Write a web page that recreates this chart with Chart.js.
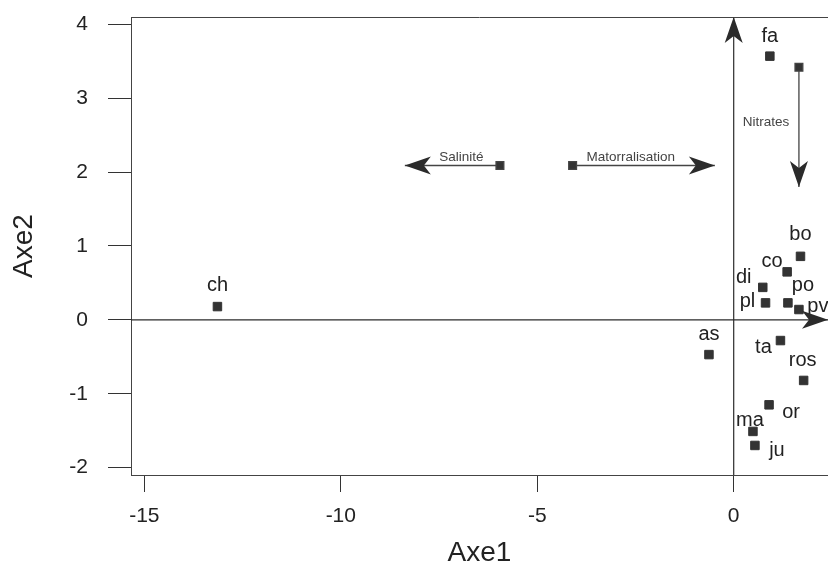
<!DOCTYPE html>
<html>
<head>
<meta charset="utf-8">
<script src="https://cdn.jsdelivr.net/npm/chart.js@4/dist/chart.umd.min.js"></script>
<style>
  html, body { margin: 0; padding: 0; background: #fff; }
  canvas { display: block; }
</style>
</head>
<body>
<canvas id="graficaACP" width="828" height="572"></canvas>
<script>
// Sites (coordonnées sur Axe1 / Axe2)
const sites = ['fa', 'bo', 'co', 'di', 'pl', 'po', 'pv', 'as', 'ta', 'ros', 'or', 'ma', 'ju', 'ch'];
const axe1 = [0.92, 1.70, 1.36, 0.74, 0.81, 1.38, 1.66, -0.63, 1.19, 1.78, 0.90, 0.49, 0.54, -13.14];
const axe2 = [3.57, 0.86, 0.65, 0.44, 0.23, 0.23, 0.14, -0.47, -0.28, -0.82, -1.15, -1.51, -1.70, 0.18];

// Variables (flèches)
const variables = ['Salinité', 'Matorralisation', 'Nitrates'];
const varStartX = [-5.95, -4.10, 1.66];
const varStartY = [2.09, 2.09, 3.42];
const varEndX = [-8.37, -0.48, 1.66];
const varEndY = [2.09, 2.09, 1.80];

// Axes
const xTicks = [-15, -10, -5, 0];
const yTicks = [-2, -1, 0, 1, 2, 3, 4];
const xMin = -15.34, xMax = 2.4;
const yMin = -2.1, yMax = 4.1;

// position des étiquettes (px, relatif au point)
const siteLabelOffset = {
    fa: [0, -20], bo: [0, -22], co: [-15, -10], di: [-19, -10], pl: [-18, -1],
    po: [15, -17], pv: [19, -3], as: [0, -20], ta: [-17, 7], ros: [-1, -20],
    or: [22, 8], ma: [-3, -11], ju: [22, 5], ch: [0, -21]
};
const varLabelOffset = [[9, -8], [-13, -8], [-33, -5]];

const ink = '#2b2b2b';
const fontFamily = '"Liberation Sans", Arial, sans-serif';

const datasets = [{
    label: 'sites',
    data: sites.map((s, i) => ({ x: axe1[i], y: axe2[i] })),
    pointStyle: 'rect',
    pointRadius: 6,
    backgroundColor: '#333',
    borderColor: '#333',
    borderWidth: 1,
    showLine: false,
    siteLabels: true
}];

variables.forEach((v, i) => {
    datasets.push({
        label: v,
        data: [{ x: varStartX[i], y: varStartY[i] }, { x: varEndX[i], y: varEndY[i] }],
        showLine: true,
        borderColor: '#444',
        borderWidth: 1.3,
        pointStyle: 'rect',
        pointRadius: [5.5, 0],
        backgroundColor: '#333',
        arrow: true,
        varIndex: i
    });
});

// axes factoriels avec flèches
datasets.push({
    label: 'axe1',
    data: [{ x: xMin, y: 0 }, { x: xMax, y: 0 }],
    showLine: true, borderColor: ink, borderWidth: 1.2, pointRadius: 0, arrow: true
});
datasets.push({
    label: 'axe2',
    data: [{ x: 0, y: yMin }, { x: 0, y: yMax }],
    showLine: true, borderColor: ink, borderWidth: 1.2, pointRadius: 0, arrow: true
});

const annotations = {
    id: 'annotations',
    afterDatasetsDraw(chart) {
        const ctx = chart.ctx;
        const area = chart.chartArea;
        ctx.save();
        // cadre du haut
        ctx.strokeStyle = '#444';
        ctx.lineWidth = 1;
        ctx.beginPath();
        ctx.moveTo(area.left, area.top + 0.5);
        ctx.lineTo(area.right, area.top + 0.5);
        ctx.stroke();

        chart.data.datasets.forEach((ds, di) => {
            const meta = chart.getDatasetMeta(di);
            if (ds.arrow) {
                const p0 = meta.data[0], p1 = meta.data[1];
                const a = Math.atan2(p1.y - p0.y, p1.x - p0.x);
                const L = 26, W = 9, N = 7;
                ctx.save();
                ctx.translate(p1.x, p1.y);
                ctx.rotate(a);
                ctx.fillStyle = ink;
                ctx.beginPath();
                ctx.moveTo(0, 0);
                ctx.lineTo(-L, -W);
                ctx.lineTo(-L + N, 0);
                ctx.lineTo(-L, W);
                ctx.closePath();
                ctx.fill();
                ctx.restore();
                if (ds.varIndex !== undefined) {
                    const off = varLabelOffset[ds.varIndex];
                    const mx = (p0.x + p1.x) / 2, my = (p0.y + p1.y) / 2;
                    ctx.fillStyle = '#444';
                    ctx.font = '13.5px ' + fontFamily;
                    ctx.textAlign = 'center';
                    ctx.textBaseline = 'middle';
                    ctx.fillText(ds.label, mx + off[0], my + off[1]);
                }
            }
            if (ds.siteLabels) {
                ctx.fillStyle = '#222';
                ctx.font = '20px ' + fontFamily;
                ctx.textAlign = 'center';
                ctx.textBaseline = 'middle';
                meta.data.forEach((pt, i) => {
                    const off = siteLabelOffset[sites[i]];
                    ctx.fillText(sites[i], pt.x + off[0], pt.y + off[1]);
                });
            }
        });
        ctx.restore();
    }
};

const ctxACP = document.getElementById('graficaACP').getContext('2d');
const graficaACP = new Chart(ctxACP, {
    type: 'scatter',
    data: { datasets: datasets },
    options: {
        responsive: false,
        animation: false,
        layout: { autoPadding: false, padding: { top: 17, right: 0, left: 0, bottom: 0 } },
        plugins: {
            legend: { display: false },
            tooltip: { enabled: false }
        },
        scales: {
            x: {
                type: 'linear',
                min: xMin, max: xMax,
                afterBuildTicks: (scale) => { scale.ticks = xTicks.map(v => ({ value: v })); },
                afterFit: (scale) => { scale.height = 97; scale.paddingLeft = 0; scale.paddingRight = 0; },
                grid: { drawOnChartArea: false, tickLength: 17, color: '#333', lineWidth: 1 },
                border: { display: true, color: '#444', width: 1 },
                ticks: { color: '#222', padding: 12, font: { size: 21, family: fontFamily } },
                title: { display: true, text: 'Axe1', color: '#222', font: { size: 28, family: fontFamily }, padding: { top: 0, bottom: 2 } }
            },
            y: {
                type: 'linear',
                min: yMin, max: yMax,
                afterBuildTicks: (scale) => { scale.ticks = yTicks.map(v => ({ value: v })); },
                afterFit: (scale) => { scale.width = 131; scale.paddingTop = 0; scale.paddingBottom = 0; },
                grid: { drawOnChartArea: false, tickLength: 23, color: '#333', lineWidth: 1 },
                border: { display: true, color: '#444', width: 1 },
                ticks: { color: '#222', padding: 20, font: { size: 21, family: fontFamily } },
                title: { display: true, text: 'Axe2', color: '#222', font: { size: 28, family: fontFamily }, padding: { top: 7, bottom: 0 } }
            }
        }
    },
    plugins: [annotations]
});
</script>
</body>
</html>
